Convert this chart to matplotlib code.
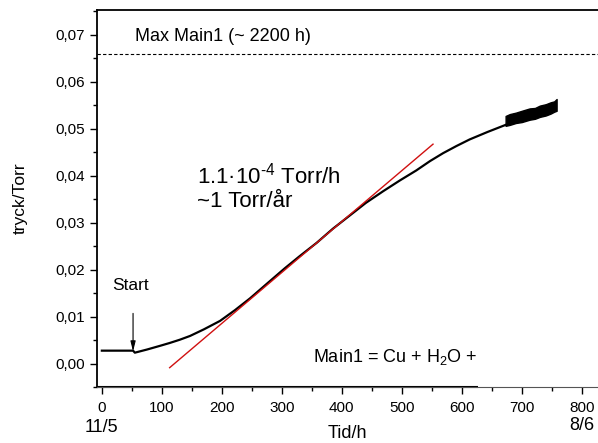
"""
Tryckökning i Main1 över tid
"""

import matplotlib
matplotlib.use('Agg')
import matplotlib.pyplot as plt
from matplotlib.ticker import MultipleLocator, FuncFormatter

matplotlib.rcParams['font.family'] = ['Liberation Sans', 'DejaVu Sans']
matplotlib.rcParams['mathtext.fontset'] = 'custom'
matplotlib.rcParams['mathtext.rm'] = 'Liberation Sans'
matplotlib.rcParams['mathtext.it'] = 'Liberation Sans'

# mätkurva (tid i timmar, tryck i Torr)
tid = [0, 52, 55, 75, 97, 113, 130, 147, 170, 197, 222, 247, 275, 305, 330,
       358, 385, 413, 440, 469, 497, 524, 547, 569, 591, 613, 643, 673]
tryck = [0.00277, 0.00277, 0.00234, 0.0030, 0.0038, 0.0044, 0.0051, 0.0059,
         0.0073, 0.0091, 0.0114, 0.0139, 0.0170, 0.0203, 0.0229, 0.0257,
         0.0287, 0.0315, 0.0342, 0.0367, 0.0390, 0.0411, 0.0431, 0.0448,
         0.0463, 0.0477, 0.0493, 0.0508]

# brusigt slutparti, undre och övre gräns
tid_brus = [673, 680, 690, 700, 713, 722, 730, 740, 748, 754, 758]
brus_lag = [0.0506, 0.0508, 0.0512, 0.0514, 0.0519, 0.0521, 0.0525, 0.0528, 0.0532, 0.0536, 0.0538]
brus_hog = [0.0527, 0.0531, 0.0534, 0.0538, 0.0543, 0.0544, 0.0549, 0.0552, 0.0556, 0.0558, 0.0563]

# anpassad linje, 1.1e-4 Torr/h
fit_tid = [113, 552]
fit_tryck = [-0.00085, 0.0467]

max_main1 = 0.0659


def main():
    fig = plt.figure(figsize=(5.98, 4.43), dpi=100)
    ax = fig.add_axes([0.162, 0.126, 0.838, 0.851])

    ax.plot(tid, tryck, color='black', lw=1.6, solid_joinstyle='round')
    ax.fill_between(tid_brus, brus_lag, brus_hog, color='black', lw=1.0)
    ax.plot(fit_tid, fit_tryck, color='#d01010', lw=1.0)
    ax.axhline(max_main1, color='black', lw=0.8, ls=(0, (3, 2)))

    ax.set_xlim(-8.3, 827)
    ax.set_ylim(-0.005, 0.0752)

    ax.xaxis.set_major_locator(MultipleLocator(100))
    ax.xaxis.set_minor_locator(MultipleLocator(50))
    ax.yaxis.set_major_locator(MultipleLocator(0.01))
    ax.yaxis.set_minor_locator(MultipleLocator(0.005))
    ax.yaxis.set_major_formatter(FuncFormatter(lambda v, p: f"{v:.2f}".replace('.', ',')))
    ax.tick_params(which='major', direction='out', length=5, width=1, labelsize=11)
    ax.tick_params(which='minor', direction='out', length=3, width=1)
    ax.tick_params(axis='x', pad=5)

    ax.spines['right'].set_visible(False)
    ax.spines['top'].set_linewidth(1.3)
    ax.spines['left'].set_linewidth(1.3)
    ax.spines['bottom'].set_linewidth(0.8)
    ax.spines['bottom'].set_color('#555555')
    ax.plot([0, 0.76], [0, 0], transform=ax.transAxes, color='black', lw=1.5,
            clip_on=False, solid_capstyle='butt')

    ax.set_ylabel('tryck/Torr', fontsize=12.5, labelpad=20)
    ax.set_xlabel('Tid/h', fontsize=13, labelpad=7)
    ax.text(0, -0.085, '11/5', transform=ax.get_xaxis_transform(), fontsize=13,
            ha='center', va='top')
    ax.text(800, -0.08, '8/6', transform=ax.get_xaxis_transform(), fontsize=13,
            ha='center', va='top')

    ax.text(55, 0.0696, 'Max Main1 (~ 2200 h)', fontsize=13, va='center')
    ax.text(158, 0.0400, '1.1·10$^{\\text{-4}}$ Torr/h', fontsize=16, va='center')
    ax.text(158, 0.0344, '~1 Torr/år', fontsize=16, va='center')
    ax.text(352, 0.0015, 'Main1 = Cu + H$_{\\text{2}}$O +', fontsize=13, va='center')
    ax.text(17, 0.0167, 'Start', fontsize=12.5, va='center')
    ax.annotate('', xy=(52, 0.0026), xytext=(52, 0.0107),
                arrowprops=dict(arrowstyle='-|>,head_length=0.6,head_width=0.15',
                                color='black', lw=0.8,
                                mutation_scale=10, shrinkA=0, shrinkB=0))

    fig.savefig('out.png', dpi=100)


if __name__ == "__main__":
    main()
